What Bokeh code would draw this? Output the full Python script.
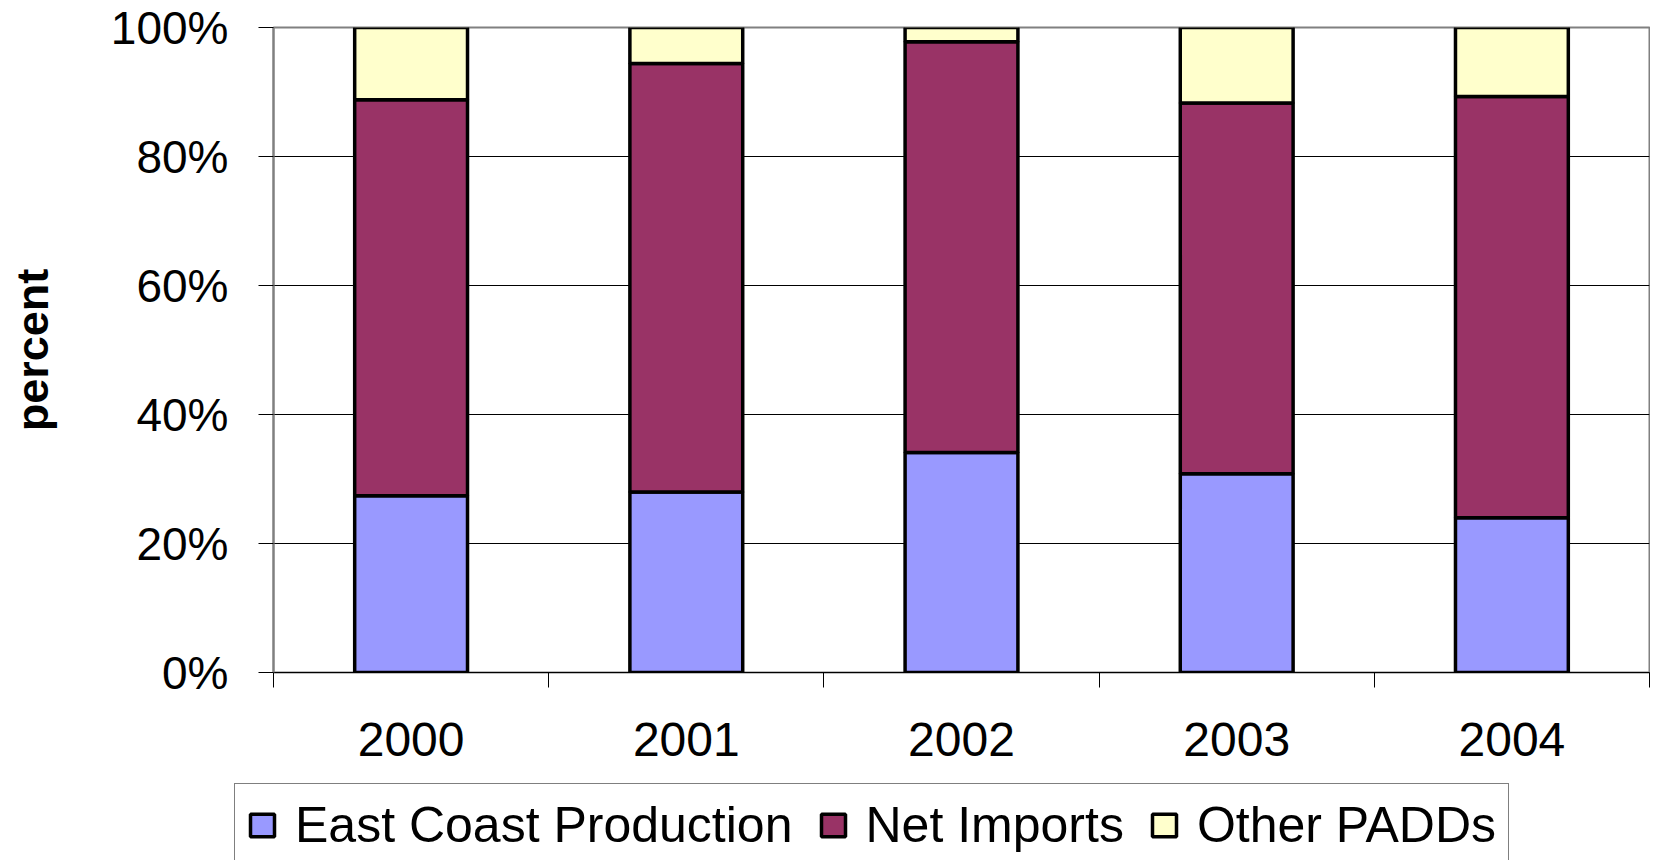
from bokeh.plotting import figure
from bokeh.layouts import column
from bokeh.models import (ColumnDataSource, Range1d, FixedTicker, PrintfTickFormatter,
                          Legend, LegendItem)
from bokeh.embed import file_html
from bokeh.resources import INLINE

# ---- data (percent shares) ----
years = ["2000", "2001", "2002", "2003", "2004"]
east_coast_production = [27.4, 28.0, 34.1, 30.8, 24.0]
net_imports = [61.4, 66.4, 63.7, 57.5, 65.3]
other_padds = [11.2, 5.6, 2.2, 11.7, 10.7]
series_names = ["East Coast Production", "Net Imports", "Other PADDs"]
series_colors = ["#9999FF", "#993366", "#FFFFCC"]
y_ticks = [0, 20, 40, 60, 80, 100]

FONT = "Liberation Sans"
BAR_LINE = 3.5

xpos = [i + 0.5 for i in range(len(years))]
source = ColumnDataSource(dict(x=xpos, east=east_coast_production,
                               net=net_imports, other=other_padds))

p = figure(width=1650, height=782, output_backend="svg", toolbar_location=None,
           x_range=Range1d(0, len(years)), y_range=Range1d(0, 100),
           min_border_left=273, min_border_right=1, min_border_top=27,
           min_border_bottom=110)

renderers = p.vbar_stack(["east", "net", "other"], x="x", width=0.41,
                         color=series_colors, line_color="black", line_width=BAR_LINE,
                         source=source)

# plot area border
p.outline_line_color = "#808080"
p.outline_line_width = 2
p.background_fill_color = "white"
p.border_fill_color = "white"

# grids
p.xgrid.visible = False
p.ygrid.ticker = FixedTicker(ticks=y_ticks)
p.ygrid.grid_line_color = "black"
p.ygrid.grid_line_width = 1

# y axis
ya = p.yaxis[0]
ya.ticker = FixedTicker(ticks=y_ticks)
ya.formatter = PrintfTickFormatter(format="%d%%")
ya.major_label_text_font = FONT
ya.major_label_text_font_size = "46px"
ya.major_label_text_color = "black"
ya.major_tick_out = 15
ya.major_tick_in = 0
ya.major_tick_line_color = "black"
ya.minor_tick_line_color = None
ya.axis_line_color = "#808080"
ya.axis_line_width = 2
ya.major_label_standoff = 30
ya.axis_label = "percent"
ya.axis_label_text_font = FONT
ya.axis_label_text_font_style = "bold"
ya.axis_label_text_font_size = "45px"
ya.axis_label_text_color = "black"
ya.axis_label_standoff = 50

# x axis: labels at category centres, ticks at boundaries (minor ticks)
xa = p.xaxis[0]
xa.ticker = FixedTicker(ticks=xpos, minor_ticks=list(range(len(years) + 1)))
xa.major_label_overrides = {x: y for x, y in zip(xpos, years)}
xa.major_label_text_font = FONT
xa.major_label_text_font_size = "48px"
xa.major_label_text_color = "black"
xa.major_tick_out = 0
xa.major_tick_in = 0
xa.minor_tick_out = 15
xa.minor_tick_in = 0
xa.minor_tick_line_color = "black"
xa.axis_line_color = "black"
xa.axis_line_width = 1
xa.major_label_standoff = 35

# ---- legend strip (separate figure below the chart) ----
p2 = figure(width=1650, height=78, output_backend="svg", toolbar_location=None,
            x_range=Range1d(0, 1), y_range=Range1d(0, 1),
            x_axis_location=None, y_axis_location=None,
            min_border_left=234, min_border_right=0, min_border_top=1,
            min_border_bottom=0)
p2.frame_align = False
p2.outline_line_color = None
p2.xgrid.visible = False
p2.ygrid.visible = False
p2.background_fill_color = "white"
p2.border_fill_color = "white"

# legend proxies: a tiny mark each, hidden underneath the opaque legend box
proxies = [p2.vbar(x=[0.05], top=[0.5], bottom=[0.45], width=0.001, fill_color=c,
                   line_color="black", line_width=BAR_LINE) for c in series_colors]
items = [LegendItem(label=n, renderers=[r]) for n, r in zip(series_names, proxies)]
legend = Legend(items=items, orientation="horizontal", location="top_left",
                label_text_font=FONT, label_text_font_size="50px",
                label_text_color="black", glyph_width=30, glyph_height=28,
                label_standoff=18, spacing=25, padding=12, margin=0,
                label_height=50,
                border_line_color="black", border_line_width=1.5,
                background_fill_color="white", background_fill_alpha=1)
p2.add_layout(legend, "center")

layout = column(p, p2, spacing=0)
open("out.html", "w").write(file_html(layout, INLINE))
